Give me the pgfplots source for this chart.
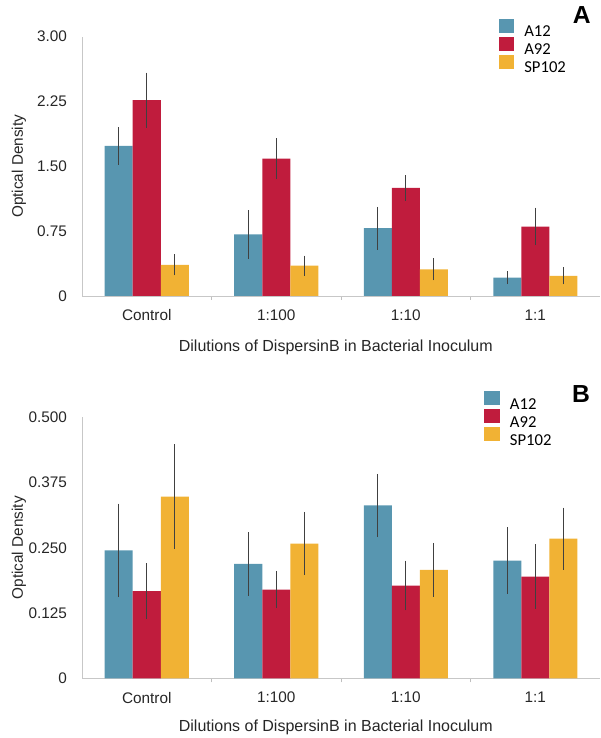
\documentclass[border=0pt]{standalone}
\usepackage{fontspec}
\setmainfont{Liberation Sans}
\newfontfamily\legfont{Carlito}
\usepackage{pgfplots}
\pgfplotsset{compat=1.18}
\definecolor{cA}{RGB}{88,150,176}
\definecolor{cB}{RGB}{192,28,61}
\definecolor{cC}{RGB}{241,178,52}
\newcommand{\lf}{\legfont\fontsize{12.5}{13}\selectfont}
\pgfplotsset{
  sw/.style={legend image code/.code={\fill[##1] (0pt,-1.25pt) rectangle (11.6pt,9.25pt);}},
  mybar/.style={
    ybar=0pt, bar width=21pt, scale only axis, width=388.5pt,
    xmin=-0.5, xmax=3.5, ymin=0,
    xtick={0,1,2,3}, xticklabels={Control,1:100,1:10,1:1},
    minor xtick={0.5,1.5,2.5},
    axis x line*=bottom, axis y line*=left,
    axis line style={draw=black!22, -},
    major tick length=0pt, minor tick length=3pt, tick align=outside,
    minor tick style={draw=black!25},
    ytick style={draw=none},
    ticklabel style={font=\fontsize{11.5}{12}\selectfont, text=black!85},
    /pgf/number format/assume math mode=true,
    yticklabel style={xshift=-7.8pt},
    xticklabel style={yshift=-6.75pt},
    error bars/y dir=both, error bars/y explicit,
    error bars/error mark=-,
    error bars/error bar style={line width=0.5pt, black!75},
    error bars/error mark options={black!75, mark size=1.8pt, line width=0.6pt},
    legend style={draw=none, fill=none, inner sep=0pt, anchor=north west,
      font=\lf,
      nodes={inner sep=0pt, text height=8.5pt, text depth=0pt},
      row sep=0pt, column sep=7.7pt, cells={anchor=west}},
    legend cell align=left,
    ylabel={Optical Density},
    ylabel style={at={(axis description cs:-0.122,0.5)}, anchor=center, font=\fontsize{11.5}{12}\selectfont, text=black!85},
    xlabel={Dilutions of DispersinB in Bacterial Inoculum},
    xlabel style={anchor=center, font=\fontsize{12}{12}\selectfont, text=black!85},
    clip=false,
  }
}
\begin{document}
\begin{tikzpicture}
\useasboundingbox (0,0) rectangle (450pt,553.5pt);
% Panel A
\begin{axis}[mybar, at={(61.5pt,331.5pt)}, anchor=south west,
  height=194.6pt, ymax=3,
  ytick={0,0.75,1.5,2.25,3}, yticklabels={0,0.75,1.50,2.25,3.00},
  xlabel style={at={(axis description cs:0.49,-0.199)}},
  legend style={at={(axis description cs:0.8037,1.070)}}]
\addplot[fill=cA, draw=none, sw] coordinates {(0,1.735) +- (0,0.19) (1,0.711) +- (0,0.25) (2,0.784) +- (0,0.22) (3,0.211) +- (0,0.045)};
\addplot[fill=cB, draw=none, sw] coordinates {(0,2.265) +- (0,0.29) (1,1.587) +- (0,0.21) (2,1.249) +- (0,0.12) (3,0.803) +- (0,0.19)};
\addplot[fill=cC, draw=none, sw] coordinates {(0,0.361) +- (0,0.095) (1,0.350) +- (0,0.09) (2,0.307) +- (0,0.10) (3,0.234) +- (0,0.073)};
\legend{{\lf A12},{\lf A92},{\lf SP102}}
\end{axis}
% Panel B
\begin{axis}[mybar, at={(61.5pt,44.8pt)}, anchor=south west,
  height=195.75pt, ymax=0.5,
  ytick={0,0.125,0.25,0.375,0.5}, yticklabels={0,0.125,0.250,0.375,0.500},
  xlabel style={at={(axis description cs:0.49,-0.189)}},
  legend style={at={(axis description cs:0.776,1.1008)}}]
\addplot[fill=cA, draw=none, sw] coordinates {(0,0.2452) +- (0,0.085) (1,0.219) +- (0,0.056) (2,0.331) +- (0,0.056) (3,0.2255) +- (0,0.059)};
\addplot[fill=cB, draw=none, sw] coordinates {(0,0.1669) +- (0,0.049) (1,0.170) +- (0,0.031) (2,0.1777) +- (0,0.043) (3,0.1949) +- (0,0.057)};
\addplot[fill=cC, draw=none, sw] coordinates {(0,0.3478) +- (0,0.096) (1,0.258) +- (0,0.056) (2,0.2076) +- (0,0.047) (3,0.2675) +- (0,0.055)};
\legend{{\lf A12},{\lf A92},{\lf SP102}}
\end{axis}
\node[anchor=base, font=\fontsize{18.5}{19}\selectfont\bfseries] at (436.3pt,535.5pt) {A};
\node[anchor=base, font=\fontsize{18.5}{19}\selectfont\bfseries] at (435.75pt,251.8pt) {B};
\end{tikzpicture}
\end{document}
